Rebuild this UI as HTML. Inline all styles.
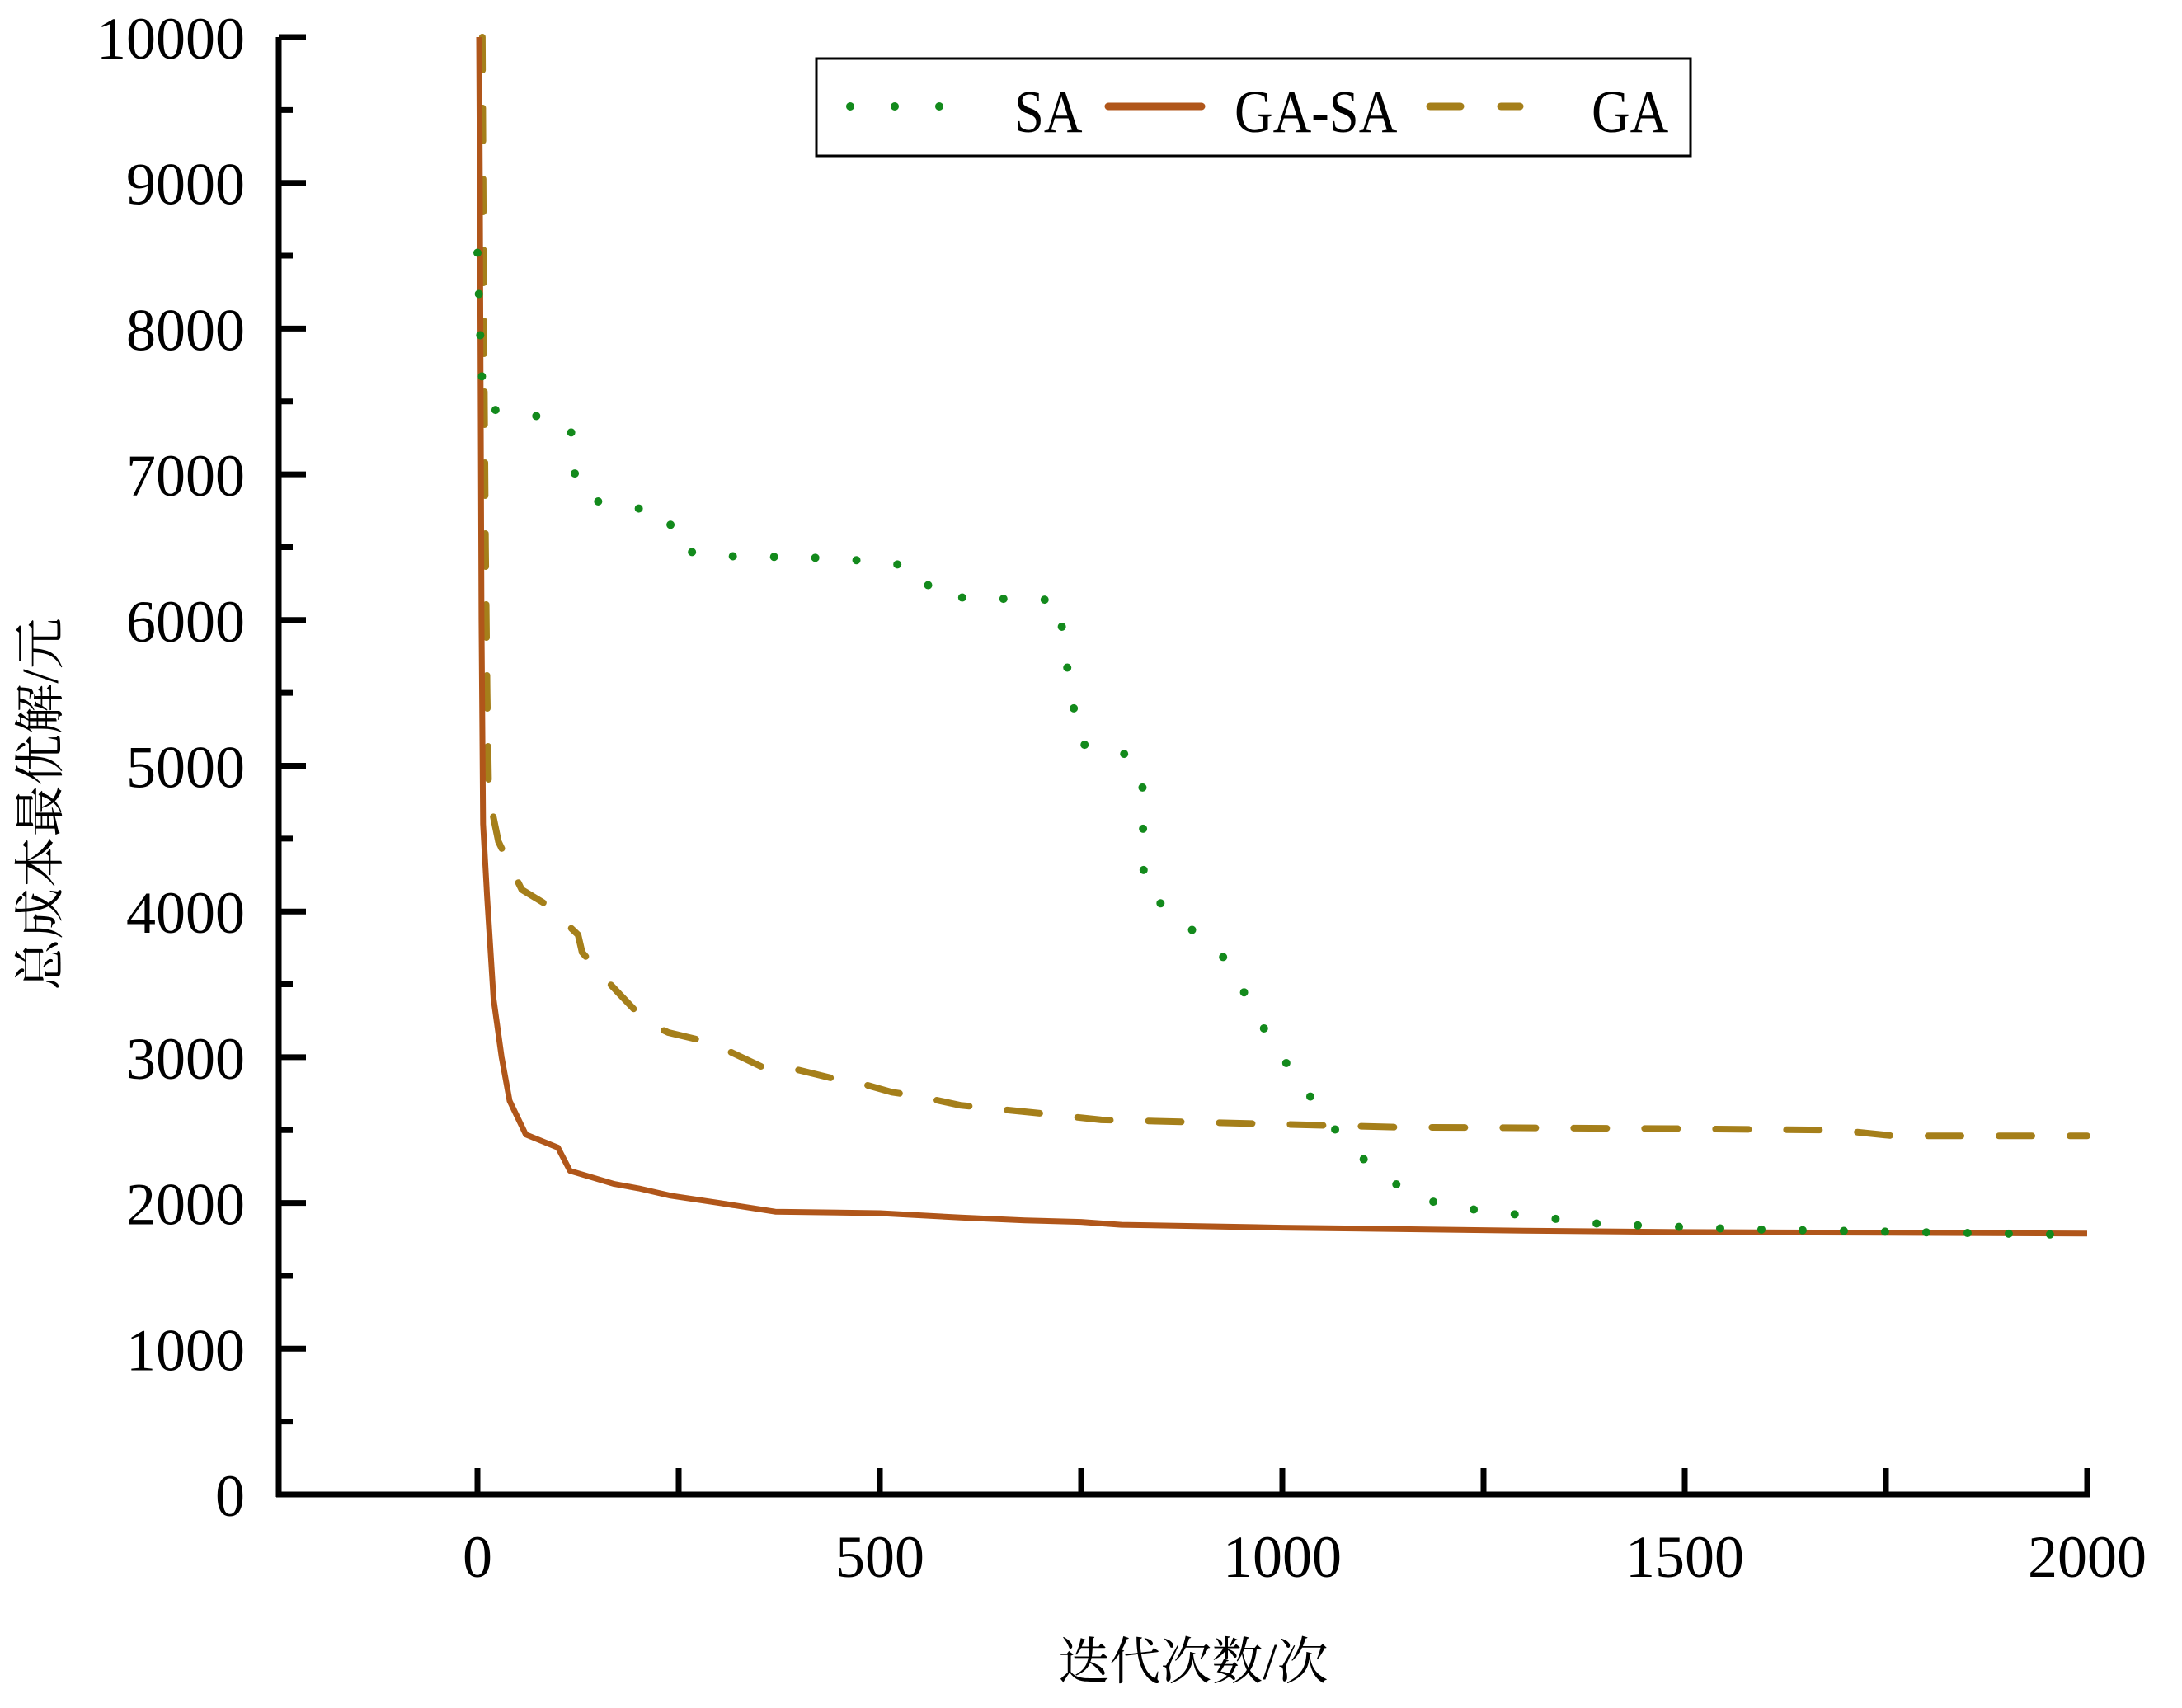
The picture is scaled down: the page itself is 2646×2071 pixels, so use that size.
<!DOCTYPE html>
<html><head><meta charset="utf-8"><style>
html,body{margin:0;padding:0;background:#fff;}
svg{display:block;}
text{font-family:"Liberation Serif","Noto Serif CJK SC",serif;fill:#000;}
</style></head><body>
<svg id="chart" width="2646" height="2071" viewBox="0 0 2646 2071" xmlns="http://www.w3.org/2000/svg">
<g id="axes"></g>
<g id="series"></g>
<g id="legend">
  <rect x="990" y="71" width="1060" height="118" fill="#fff" stroke="#000" stroke-width="3"/>
  <g>
    <line x1="1031" y1="129" x2="1140" y2="129" stroke="#138a1c" stroke-width="10" stroke-linecap="round" stroke-dasharray="0 54"/>
    <text x="1230" y="160" font-size="68" transform="translate(1230,160) scale(0.95,1.08) translate(-1230,-160)">SA</text>
  </g>
  <g>
    <line x1="1344" y1="129" x2="1457" y2="129" stroke="#b0561a" stroke-width="9" stroke-linecap="round"/>
    <text x="1497" y="160" font-size="68" transform="translate(1497,160) scale(0.95,1.08) translate(-1497,-160)">GA-SA</text>
  </g>
  <g>
    <line x1="1734" y1="129" x2="1771" y2="129" stroke="#a57f1a" stroke-width="9" stroke-linecap="round"/>
    <line x1="1820" y1="129" x2="1843" y2="129" stroke="#a57f1a" stroke-width="9" stroke-linecap="round"/>
    <text x="1930" y="160" font-size="68" transform="translate(1930,160) scale(0.95,1.08) translate(-1930,-160)">GA</text>
  </g>
</g>
<text x="1447" y="2036" font-size="62" text-anchor="middle">迭代次数/次</text>
<text transform="translate(70,975) rotate(-90)" font-size="62" text-anchor="middle">总成本最优解/元</text>
</svg>
<script>
const xTicks = [0, 500, 1000, 1500, 2000];
const xMinorTicks = [250, 750, 1250, 1750];
const yTicks = [0,1000,2000,3000,4000,5000,6000,7000,8000,9000,10000];
const yMinorTicks = [500,1500,2500,3500,4500,5500,6500,7500,8500,9500];

const saX = [0,5,12,73,116,120,133,237,246,290,410,505,550,567,688,722,730,748,800,826,828,870,930,982,1017,1069,1103,1138,1172,1215,1276,1397,1570,2000];
const saY = [8520,7690,7450,7400,7320,7020,6830,6730,6490,6440,6430,6400,6350,6160,6140,6140,5770,5150,5100,4960,4150,3960,3670,3150,2860,2480,2290,2140,2030,1970,1930,1855,1820,1780];

const gasaX = [2,3,5,7,12,20,30,40,60,100,115,170,200,240,300,370,500,600,680,750,800,1000,1300,1500,2000];
const gasaY = [10000,9000,6000,4600,4100,3400,3000,2700,2470,2380,2220,2130,2100,2050,2000,1940,1930,1900,1880,1870,1850,1830,1810,1800,1790];

const gaX = [6,8,10,12,14,26,55,85,125,130,160,177,210,237,290,355,393,445,470,515,550,600,690,775,1000,1140,1485,1690,1760,2000];
const gaY = [10000,8000,6500,5500,4800,4480,4150,4050,3840,3720,3530,3430,3240,3170,3100,2930,2920,2850,2830,2760,2730,2670,2620,2570,2540,2520,2510,2500,2460,2460];

const X0 = 579, XS = 0.976, Y0 = 1812, YS = 0.17670;
function sx(v){ return X0 + v * XS; }
function sy(v){ return Y0 - v * YS; }
const NS = "http://www.w3.org/2000/svg";
function mk(tag, attrs, parent){
  const e = document.createElementNS(NS, tag);
  for (const k in attrs) e.setAttribute(k, attrs[k]);
  parent.appendChild(e);
  return e;
}
const axes = document.getElementById('axes');
const series = document.getElementById('series');
const xL = 338, xR = sx(2000), yT = sy(10000);

const yAxis = mk('line', {x1:xL, y1:yT, x2:xL, y2:Y0+3, stroke:'#000', 'stroke-width':7}, axes);


const xAxis = mk('line', {x1:xL-3, y1:Y0, x2:xR+4, y2:Y0, stroke:'#000', 'stroke-width':7}, axes);



yTicks.forEach(v => {
  const t = mk('line', {x1:xL, y1:sy(v), x2:xL+33, y2:sy(v), stroke:'#000', 'stroke-width':7}, axes);
  
  
  const l = mk('text', {x:297, y:sy(v)+26, 'font-size':72, 'text-anchor':'end'}, axes);
  
  
  l.textContent = v;
});
yMinorTicks.forEach(v => {
  const t = mk('line', {x1:xL, y1:sy(v), x2:xL+17, y2:sy(v), stroke:'#000', 'stroke-width':7}, axes);
  
  
});
xTicks.forEach(v => {
  const t = mk('line', {x1:sx(v), y1:Y0, x2:sx(v), y2:Y0-32, stroke:'#000', 'stroke-width':7}, axes);
  
  
  const l = mk('text', {x:sx(v), y:1912, 'font-size':72, 'text-anchor':'middle'}, axes);
  
  
  l.textContent = v;
});
xMinorTicks.forEach(v => {
  const t = mk('line', {x1:sx(v), y1:Y0, x2:sx(v), y2:Y0-32, stroke:'#000', 'stroke-width':7}, axes);
  
  
});

function pts(xs, ys){ return xs.map((x,i)=> sx(x).toFixed(1)+','+sy(ys[i]).toFixed(1)).join(' '); }

const ga = mk('polyline', {points:pts(gaX,gaY), fill:'none', stroke:'#a57f1a', 'stroke-width':8, 'stroke-linecap':'round', 'stroke-dasharray':'40 46'}, series);



const gasa = mk('polyline', {points:pts(gasaX,gasaY), fill:'none', stroke:'#b0561a', 'stroke-width':7, 'stroke-linejoin':'round'}, series);



const sa = mk('polyline', {points:pts(saX,saY), fill:'none', stroke:'#138a1c', 'stroke-width':10, 'stroke-linecap':'round', 'stroke-dasharray':'0 50'}, series);


</script>
</body></html>
